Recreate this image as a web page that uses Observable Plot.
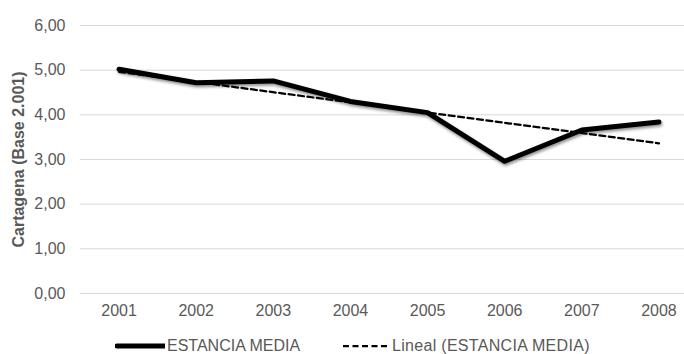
<!DOCTYPE html>
<html><head><meta charset="utf-8">
<script src="https://cdn.jsdelivr.net/npm/d3@7"></script>
<script src="https://cdn.jsdelivr.net/npm/@observablehq/plot@0.6"></script>
<style>
body{margin:0;background:#fff;font-family:"Liberation Sans",Arial,sans-serif;}
#wrap{position:relative;width:684px;height:354px;overflow:hidden;}
#legend{position:absolute;left:0;top:335px;width:684px;height:22px;font-size:16px;color:#595959;}
.li{position:absolute;top:0;display:flex;align-items:center;height:22px;white-space:nowrap;}
</style>
</head><body>
<div id="wrap"><div id="chart"></div>
<div id="legend">
<div class="li" style="left:115px"><svg width="50" height="8"><line x1="2" y1="4" x2="50" y2="4" stroke="#000" stroke-width="5" stroke-linecap="round"/></svg><span style="margin-left:2px">ESTANCIA MEDIA</span></div>
<div class="li" style="left:343px"><svg width="47" height="8"><line x1="0" y1="4" x2="47" y2="4" stroke="#000" stroke-width="2.25" stroke-dasharray="6,3.5"/></svg><span style="margin-left:2px;letter-spacing:0.3px">Lineal (ESTANCIA MEDIA)</span></div>
</div></div>
<script>
const years = ["2001","2002","2003","2004","2005","2006","2007","2008"];
const estancia = [5.02, 4.72, 4.76, 4.30, 4.05, 2.96, 3.66, 3.84];
const yTicks = [0,1,2,3,4,5,6];
const yTitle = "Cartagena (Base 2.001)";

const data = years.map((y,i)=>({i:i+1, year:y, v:estancia[i]}));
const fmt = d => d.toFixed(2).replace(".", ",");

const chart = Plot.plot({
  width: 684, height: 325,
  marginLeft: 80, marginRight: 0, marginTop: 25, marginBottom: 32,
  style: {fontFamily: "'Liberation Sans', Arial, sans-serif", fontSize: "16px", color: "#595959", background: "#fff"},
  x: {type: "linear", domain: [0.5, 8.5], range: [80, 697], axis: null},
  y: {domain: [0, 6], axis: null},
  marks: [
    Plot.ruleY(yTicks, {stroke: "#d9d9d9", strokeWidth: 1}),
    Plot.axisY(yTicks, {tickFormat: fmt, tickSize: 0, tickPadding: 15, fontSize: 16, fill: "#595959", label: null}),
    Plot.axisX(years.map((d,i)=>i+1), {tickFormat: (d)=>years[d-1], tickSize: 0, tickPadding: 11, fontSize: 16, fill: "#595959", label: null}),
    Plot.text([yTitle], {frameAnchor: "left", textAnchor: "middle", dx: -62, rotate: -90, fontWeight: "bold", fontSize: 16, fill: "#595959"}),
    Plot.line(data, {x: "i", y: "v", stroke: "#000", strokeWidth: 5, strokeLinejoin: "round", strokeLinecap: "round"}),
    Plot.linearRegressionY(data, {x: "i", y: "v", stroke: "#000", strokeWidth: 2.25, strokeDasharray: "6,3.5", ci: 0})
  ]
});
document.getElementById("chart").appendChild(chart);
const ln = chart.querySelector('g[aria-label="line"]');
if (ln) ln.style.filter = "drop-shadow(1px 2px 1.5px rgba(0,0,0,0.45))";
</script>
</body></html>
